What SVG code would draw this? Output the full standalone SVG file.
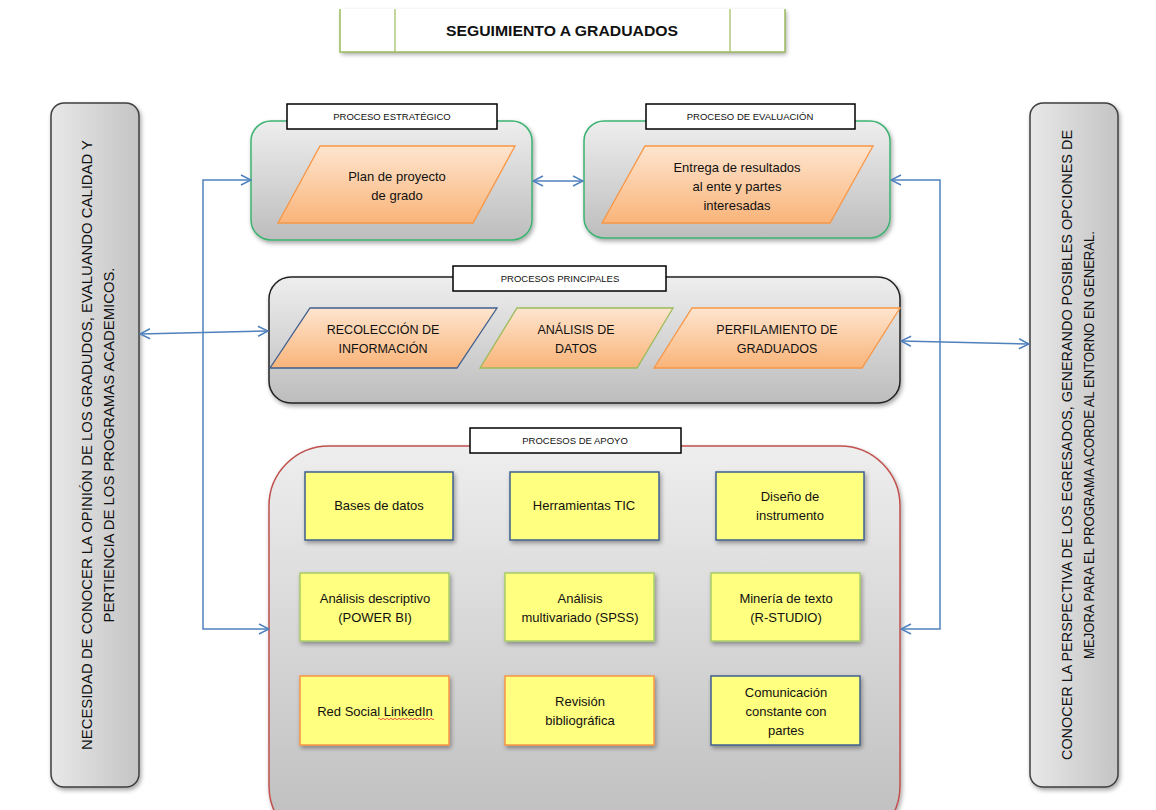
<svg xmlns="http://www.w3.org/2000/svg" width="1156" height="810" viewBox="0 0 1156 810">
<defs>
<linearGradient id="gGray" x1="0" y1="0" x2="0" y2="1"><stop offset="0" stop-color="#EEEEEE"/><stop offset="1" stop-color="#BDBDBD"/></linearGradient>
<linearGradient id="gSide" x1="0" y1="0" x2="1" y2="0"><stop offset="0" stop-color="#E8E8E8"/><stop offset="1" stop-color="#C4C4C4"/></linearGradient>
<linearGradient id="gOrange" x1="0" y1="0" x2="0" y2="1"><stop offset="0" stop-color="#FEE5CF"/><stop offset="1" stop-color="#F9B479"/></linearGradient>
<filter id="sh" x="-10%" y="-10%" width="125%" height="130%"><feDropShadow dx="1.5" dy="2.5" stdDeviation="2" flood-color="#000" flood-opacity="0.35"/></filter>
<marker id="ah" viewBox="0 0 12 12" refX="11" refY="6" markerWidth="12" markerHeight="12" markerUnits="userSpaceOnUse" orient="auto-start-reverse"><path d="M1,1 L11,6 L1,11" fill="none" stroke="#4F81BD" stroke-width="1.5"/></marker>
<style>
text{font-family:"Liberation Sans",Arial,sans-serif;fill:#111;}
.lbl{font-size:9.5px;text-anchor:middle;}
.lblbox{fill:#fff;stroke:#000;stroke-width:1.5;}
.cont{fill:url(#gGray);filter:url(#sh);}
.para{fill:url(#gOrange);stroke-width:1.3;}
.pt{font-size:13px;text-anchor:middle;}
.pc{font-size:12.5px;text-anchor:middle;}
.yb{fill:#FFFF80;stroke-width:1.5;filter:url(#sh);}
.yt{font-size:13px;text-anchor:middle;}
.side{fill:url(#gSide);stroke:#3F3F3F;stroke-width:1.5;filter:url(#sh);}
.st{font-size:14px;text-anchor:middle;}
.con{fill:none;stroke:#4F81BD;stroke-width:1.5;}
</style>
</defs>
<rect width="1156" height="810" fill="#fff"/>

<g id="title">
<path d="M340,9 V52 H785 V9 Z" fill="#fff" stroke="none" filter="url(#sh)"/>
<path d="M340,9 V52 H785 V9" fill="none" stroke="#9BBB59" stroke-width="1.5"/>
<line x1="395" y1="9" x2="395" y2="52" stroke="#9BBB59" stroke-width="1.2"/>
<line x1="730" y1="9" x2="730" y2="52" stroke="#9BBB59" stroke-width="1.2"/>
<text x="562" y="36" font-size="15.5" font-weight="bold" text-anchor="middle" textLength="232" lengthAdjust="spacingAndGlyphs">SEGUIMIENTO A GRADUADOS</text>
</g>

<g id="left-need">
<rect class="side" x="51" y="103" width="88" height="684" rx="13"/>
<g transform="translate(92,445) rotate(-90)">
<text class="st" x="0" y="0" textLength="610" lengthAdjust="spacingAndGlyphs">NECESIDAD DE CONOCER LA OPINIÓN DE LOS GRADUDOS, EVALUANDO CALIDAD Y</text>
<text class="st" x="0" y="22" textLength="355" lengthAdjust="spacingAndGlyphs">PERTIENCIA DE LOS PROGRAMAS ACADEMICOS.</text>
</g>
</g>

<g id="right-goal">
<rect class="side" x="1030" y="103" width="88" height="684" rx="13"/>
<g transform="translate(1072,445) rotate(-90)">
<text class="st" x="0" y="0" textLength="630" lengthAdjust="spacingAndGlyphs">CONOCER LA PERSPECTIVA DE LOS EGRESADOS, GENERANDO POSIBLES OPCIONES DE</text>
<text class="st" x="0" y="22" textLength="428" lengthAdjust="spacingAndGlyphs">MEJORA PARA EL PROGRAMA ACORDE AL ENTORNO EN GENERAL.</text>
</g>
</g>

<g id="proceso-estrategico">
<rect class="cont" x="251" y="121" width="281" height="119" rx="20" stroke="#3CB371" stroke-width="1.5"/>
<rect class="lblbox" x="287" y="104" width="210" height="25"/>
<text class="lbl" x="392" y="120">PROCESO ESTRATÉGICO</text>
<polygon class="para" points="320,146 515,146 473,223 278,223" stroke="#F79646"/>
<text class="pt" x="397" y="181">Plan de proyecto</text>
<text class="pt" x="397" y="200">de grado</text>
</g>

<g id="proceso-evaluacion">
<rect class="cont" x="584" y="121" width="306" height="117" rx="20" stroke="#3CB371" stroke-width="1.5"/>
<rect class="lblbox" x="646" y="104" width="209" height="25"/>
<text class="lbl" x="750" y="120">PROCESO DE EVALUACIÓN</text>
<polygon class="para" points="645,146 873,146 830,223 602,223" stroke="#F79646"/>
<text class="pt" x="737" y="172">Entrega de resultados</text>
<text class="pt" x="737" y="191">al ente y partes</text>
<text class="pt" x="737" y="210">interesadas</text>
</g>

<g id="procesos-principales">
<rect class="cont" x="269" y="277" width="631" height="126" rx="22" stroke="#222" stroke-width="1.5"/>
<rect class="lblbox" x="453" y="266" width="213" height="25"/>
<text class="lbl" x="560" y="282">PROCESOS PRINCIPALES</text>
<polygon class="para" points="310,308 497,308 457,368 270,368" stroke="#3F5F8F"/>
<text class="pc" x="383" y="334">RECOLECCIÓN DE</text>
<text class="pc" x="383" y="353">INFORMACIÓN</text>
<polygon class="para" points="517,308 673,308 637,368 480,368" stroke="#9BBB59"/>
<text class="pc" x="576" y="334">ANÁLISIS DE</text>
<text class="pc" x="576" y="353">DATOS</text>
<polygon class="para" points="692,308 900,308 862,368 654,368" stroke="#F79646"/>
<text class="pc" x="777" y="334">PERFILAMIENTO DE</text>
<text class="pc" x="777" y="353">GRADUADOS</text>
</g>

<g id="procesos-apoyo">
<rect class="cont" x="269" y="446" width="631" height="400" rx="60" stroke="#C0504D" stroke-width="1.5"/>
<rect class="lblbox" x="470" y="428" width="211" height="25"/>
<text class="lbl" x="575" y="444">PROCESOS DE APOYO</text>
</g>

<g id="bases-datos">
<rect class="yb" x="305" y="472" width="148" height="68" stroke="#3F5F8F"/>
<text class="yt" x="379" y="510">Bases de datos</text>
</g>
<g id="herramientas-tic">
<rect class="yb" x="510" y="472" width="149" height="68" stroke="#3F5F8F"/>
<text class="yt" x="584" y="510">Herramientas TIC</text>
</g>
<g id="diseno-instrumento">
<rect class="yb" x="716" y="472" width="148" height="68" stroke="#3F5F8F"/>
<text class="yt" x="790" y="501">Diseño de</text>
<text class="yt" x="790" y="520">instrumento</text>
</g>
<g id="analisis-descriptivo">
<rect class="yb" x="300" y="573" width="149" height="68" stroke="#A9CC66"/>
<text class="yt" x="375" y="603">Análisis descriptivo</text>
<text class="yt" x="375" y="622">(POWER BI)</text>
</g>
<g id="analisis-multivariado">
<rect class="yb" x="505" y="573" width="149" height="68" stroke="#A9CC66"/>
<text class="yt" x="580" y="603">Análisis</text>
<text class="yt" x="580" y="622">multivariado (SPSS)</text>
</g>
<g id="mineria-texto">
<rect class="yb" x="711" y="573" width="149" height="68" stroke="#A9CC66"/>
<text class="yt" x="786" y="603">Minería de texto</text>
<text class="yt" x="786" y="622">(R-STUDIO)</text>
</g>
<g id="red-social">
<rect class="yb" x="300" y="676" width="149" height="69" stroke="#F79646"/>
<text class="yt" x="375" y="716">Red Social LinkedIn</text>
<path d="M378,719 q1,-1.5 2,0 t2,0 t2,0 t2,0 t2,0 t2,0 t2,0 t2,0 t2,0 t2,0 t2,0 t2,0 t2,0 t2,0 t2,0 t2,0 t2,0 t2,0 t2,0 t2,0 t2,0 t2,0 t2,0 t2,0 t2,0 t2,0 t2,0 t2,0" fill="none" stroke="#E03030" stroke-width="0.8"/>
</g>
<g id="revision-bibliografica">
<rect class="yb" x="505" y="676" width="149" height="69" stroke="#F79646"/>
<text class="yt" x="580" y="706">Revisión</text>
<text class="yt" x="580" y="725">bibliográfica</text>
</g>
<g id="comunicacion">
<rect class="yb" x="711" y="676" width="149" height="69" stroke="#3F5F8F"/>
<text class="yt" x="786" y="697">Comunicación</text>
<text class="yt" x="786" y="716">constante con</text>
<text class="yt" x="786" y="735">partes</text>
</g>

<g id="connectors">
<polyline class="con" points="251,180 203,180 203,629 269,629" marker-start="url(#ah)" marker-end="url(#ah)"/>
<line class="con" x1="140" y1="334" x2="268" y2="331" marker-start="url(#ah)" marker-end="url(#ah)"/>
<line class="con" x1="533" y1="181" x2="583" y2="181" marker-start="url(#ah)" marker-end="url(#ah)"/>
<polyline class="con" points="891,180 940,180 940,629 901,629" marker-start="url(#ah)" marker-end="url(#ah)"/>
<line class="con" x1="901" y1="341" x2="1029" y2="344" marker-start="url(#ah)" marker-end="url(#ah)"/>
</g>
</svg>
